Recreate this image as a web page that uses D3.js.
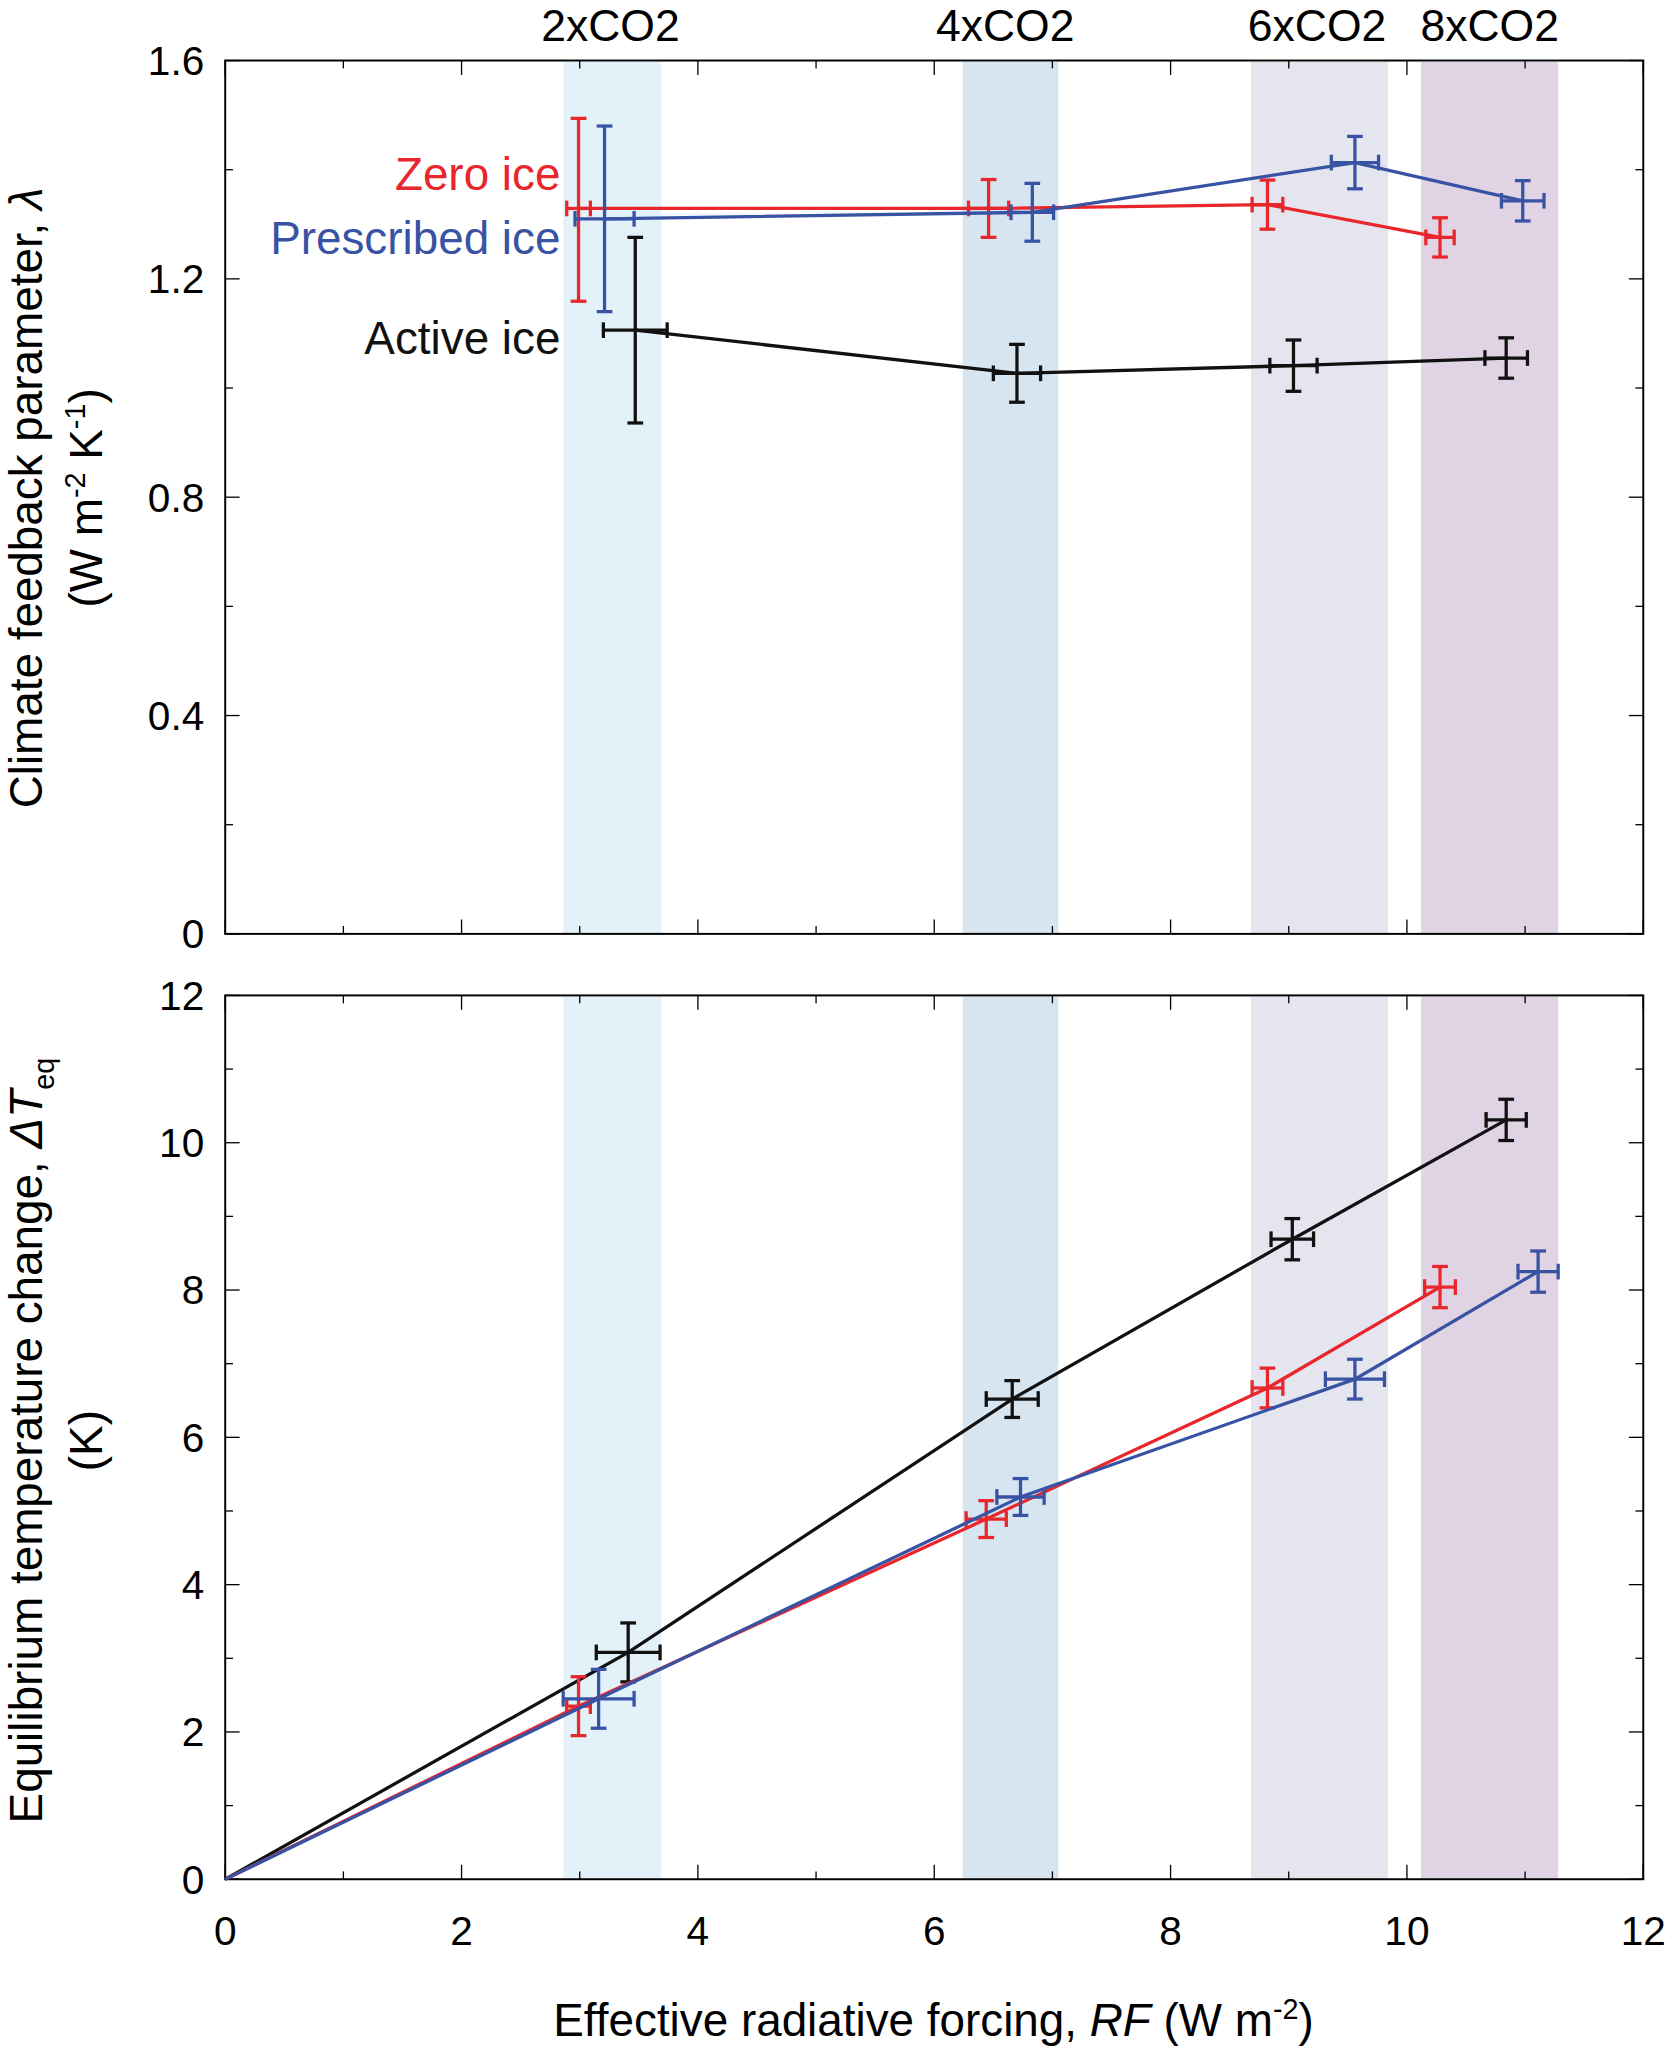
<!DOCTYPE html><html><head><meta charset="utf-8">
<script src="https://cdn.jsdelivr.net/npm/d3@7"></script>
<style>body{margin:0;background:#fff}text{font-family:"Liberation Sans",Arial,sans-serif}</style></head>
<body><svg id="c" width="1676" height="2055" viewBox="0 0 1280 1569"></svg>
<script>
const bands=[{name:"2xCO2",x0:2.86,x1:3.69,color:"#e3f2f8"},{name:"4xCO2",x0:6.24,x1:7.05,color:"#d6e5f0"},{name:"6xCO2",x0:8.68,x1:9.84,color:"#e5e5ef"},{name:"8xCO2",x0:10.12,x1:11.28,color:"#e0d4e4"}];
const bandLabelX=[3.26,6.6,9.24,10.7];
// top panel: lambda [x, y, xerr, yerrLow, yerrHigh]
const lamZero=[[2.99,1.329,0.1,0.17,0.165],[6.46,1.329,0.17,0.053,0.053],[8.82,1.336,0.13,0.045,0.045],[10.28,1.276,0.12,0.036,0.036]];
const lamPresc=[[3.21,1.310,0.25,0.17,0.17],[6.83,1.322,0.18,0.053,0.053],[9.56,1.413,0.2,0.048,0.048],[10.98,1.343,0.18,0.037,0.037]];
const lamActive=[[3.47,1.106,0.27,0.17,0.17],[6.70,1.027,0.2,0.053,0.053],[9.04,1.041,0.2,0.047,0.047],[10.84,1.055,0.18,0.037,0.037]];
// bottom panel: dT
const dtZero=[[2.99,2.35,0.1,0.4,0.4],[6.44,4.89,0.17,0.25,0.25],[8.82,6.67,0.13,0.27,0.27],[10.28,8.04,0.13,0.28,0.28]];
const dtPresc=[[3.16,2.45,0.3,0.4,0.4],[6.73,5.19,0.2,0.25,0.25],[9.56,6.79,0.25,0.27,0.27],[11.11,8.25,0.17,0.28,0.28]];
const dtActive=[[3.41,3.08,0.27,0.4,0.4],[6.66,6.52,0.22,0.25,0.25],[9.03,8.69,0.18,0.28,0.28],[10.84,10.31,0.17,0.28,0.28]];
const xTicks=[0,2,4,6,8,10,12];
const lamTicks=[0,0.4,0.8,1.2,1.6];
const dtTicks=[0,2,4,6,8,10,12];
const RED="#e8262b",BLUE="#3953a4",BLACK="#111";

const svg=d3.select("#c");
const x=d3.scaleLinear().domain([0,12]).range([172,1255]);
function panel(y0,y1,yDom,yTicks,fmt,series,origin){
  const y=d3.scaleLinear().domain(yDom).range([y1,y0]);
  const g=svg.append("g");
  bands.forEach(b=>g.append("rect").attr("x",x(b.x0)).attr("width",x(b.x1)-x(b.x0)).attr("y",y0+1).attr("height",y1-y0-1).attr("fill",b.color));
  g.append("rect").attr("x",x(0)).attr("y",y0).attr("width",x(12)-x(0)).attr("height",y1-y0).attr("fill","none").attr("stroke","#000").attr("stroke-width",1.5);
  d3.range(0,12.01,1).forEach(v=>{const L=v%2?6:11;
    g.append("line").attr("x1",x(v)).attr("x2",x(v)).attr("y1",y1).attr("y2",y1-L).attr("stroke","#000");
    g.append("line").attr("x1",x(v)).attr("x2",x(v)).attr("y1",y0).attr("y2",y0+L).attr("stroke","#000");});
  const step=yTicks[1]-yTicks[0];
  d3.range(yDom[0],yDom[1]+1e-9,step/2).forEach((v,i)=>{const L=i%2?6:11;
    g.append("line").attr("x1",x(0)).attr("x2",x(0)+L).attr("y1",y(v)).attr("y2",y(v)).attr("stroke","#000");
    g.append("line").attr("x1",x(12)).attr("x2",x(12)-L).attr("y1",y(v)).attr("y2",y(v)).attr("stroke","#000");});
  yTicks.forEach(v=>g.append("text").attr("x",x(0)-16).attr("y",y(v)+11).attr("text-anchor","end").attr("font-size",31).text(fmt(v)));
  series.forEach(([d,c])=>{
    const pts=origin?[[0,0]].concat(d):d;
    g.append("path").attr("d",d3.line().x(p=>x(p[0])).y(p=>y(p[1]))(pts)).attr("fill","none").attr("stroke",c).attr("stroke-width",2.5);
    d.forEach(p=>{const cap=6;
      const ya=y(p[1]-p[3]),yb=y(p[1]+p[4]),xa=x(p[0]-p[2]),xb=x(p[0]+p[2]);
      const L=(a,b,c2,d2)=>g.append("line").attr("x1",a).attr("x2",b).attr("y1",c2).attr("y2",d2).attr("stroke",c).attr("stroke-width",2.5);
      L(x(p[0]),x(p[0]),ya,yb);L(x(p[0])-cap,x(p[0])+cap,ya,ya);L(x(p[0])-cap,x(p[0])+cap,yb,yb);
      L(xa,xb,y(p[1]),y(p[1]));L(xa,xa,y(p[1])-cap,y(p[1])+cap);L(xb,xb,y(p[1])-cap,y(p[1])+cap);
    });
  });
  return y;
}
panel(46,713,[0,1.6],lamTicks,d=>d===0?"0":d3.format(".1f")(d),[[lamZero,RED],[lamPresc,BLUE],[lamActive,BLACK]],false);
panel(760,1435,[0,12],dtTicks,d3.format("d"),[[dtActive,BLACK],[dtZero,RED],[dtPresc,BLUE]],true);
xTicks.forEach(v=>svg.append("text").attr("x",x(v)).attr("y",1485).attr("text-anchor","middle").attr("font-size",31).text(v));
bands.forEach((b,i)=>svg.append("text").attr("x",x(bandLabelX[i])).attr("y",31).attr("text-anchor","middle").attr("font-size",34).text(b.name));
[["Zero ice",RED,145],["Prescribed ice",BLUE,194],["Active ice",BLACK,270]].forEach(([t,c,yy])=>svg.append("text").attr("x",428).attr("y",yy).attr("text-anchor","end").attr("font-size",35).attr("fill",c).text(t));
const t1=svg.append("text").attr("transform","translate(32,380) rotate(-90)").attr("text-anchor","middle").attr("font-size",35);
t1.append("tspan").text("Climate feedback parameter, ");t1.append("tspan").attr("font-style","italic").text("λ");
const t2=svg.append("text").attr("transform","translate(78,380) rotate(-90)").attr("text-anchor","middle").attr("font-size",35);
t2.append("tspan").text("(W m");t2.append("tspan").attr("font-size",22).attr("dy",-13).text("-2");t2.append("tspan").attr("dy",13).text(" K");t2.append("tspan").attr("font-size",22).attr("dy",-13).text("-1");t2.append("tspan").attr("dy",13).text(")");
const t3=svg.append("text").attr("transform","translate(32,1100) rotate(-90)").attr("text-anchor","middle").attr("font-size",35);
t3.append("tspan").text("Equilibrium temperature change, ");t3.append("tspan").attr("font-style","italic").text("ΔT");t3.append("tspan").attr("font-size",22).attr("dy",9).text("eq");
svg.append("text").attr("transform","translate(78,1100) rotate(-90)").attr("text-anchor","middle").attr("font-size",35).text("(K)");
const t4=svg.append("text").attr("x",713).attr("y",1555).attr("text-anchor","middle").attr("font-size",35);
t4.append("tspan").text("Effective radiative forcing, ");t4.append("tspan").attr("font-style","italic").text("RF");t4.append("tspan").text(" (W m");t4.append("tspan").attr("font-size",22).attr("dy",-13).text("-2");t4.append("tspan").attr("dy",13).text(")");
</script></body></html>
